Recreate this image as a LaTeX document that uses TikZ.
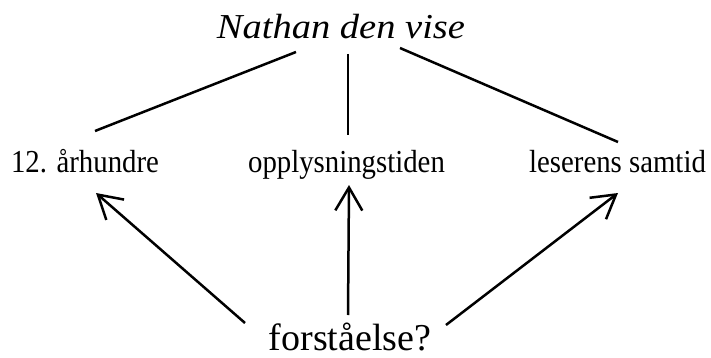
\documentclass[tikz,border=0pt]{standalone}
\usepackage{graphicx}
\usepackage{fontspec}
\setmainfont{Liberation Serif}
\usetikzlibrary{arrows.meta,calc}
\newcommand{\labtext}[1]{\scalebox{0.9}[1]{\fontsize{32}{34}\selectfont #1}}
\begin{document}
\begin{tikzpicture}[x=1pt,y=-1pt,
  lab/.style={inner sep=0pt,anchor=base},
  conn/.style={line width=2.5pt},
  arr/.style={line width=2.5pt,-{Straight Barb[length=23pt,width=27pt,line width=2.5pt]}}]
\useasboundingbox (0,0) rectangle (711,358);
\node[lab] (title) at (341,39) {\scalebox{1.1}[1]{\fontsize{35}{37}\selectfont\itshape Nathan den vise}};
\node[lab] (l1) at (85,172) {\labtext{12. århundre}};
\node[lab] (l2) at (346.5,172) {\labtext{opplysningstiden}};
\node[lab] (l3) at (617.5,172) {\labtext{leserens samtid}};
\node[lab] (bot) at (350,350) {\fontsize{38}{40}\selectfont forståelse?};
\draw[conn] ($(title.base)+(-45,13)$) -- ($(l1.base)+(10,-41)$);
\draw[conn] ($(title.base)+(7,15)$) -- ($(l2.base)+(1.5,-37)$);
\draw[conn] ($(title.base)+(59,9)$) -- ($(l3.base)+(0.5,-30)$);
\draw[arr] ($(bot.base)+(-105,-27)$) -- ($(l1.base)+(11,21)$);
\draw[arr] ($(bot.base)+(-2,-35)$) -- ($(l2.base)+(2.5,13)$);
\draw[arr] ($(bot.base)+(96,-25)$) -- ($(l3.base)+(0.5,21)$);
\end{tikzpicture}
\end{document}
